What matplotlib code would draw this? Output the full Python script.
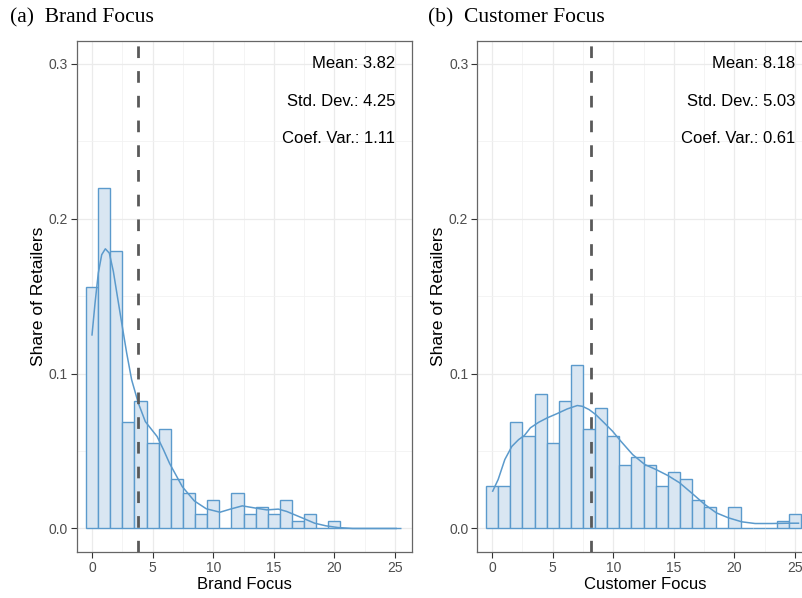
import numpy as np
import matplotlib
matplotlib.use('Agg')
import matplotlib.pyplot as plt

plt.rcParams['font.family'] = ['Liberation Sans', 'DejaVu Sans']

# histogram counts per integer bin (0..25), 218 retailers
n_retailers = 218
bins = np.arange(0, 26)
brand_counts = [34, 48, 39, 15, 18, 12, 14, 7, 5, 2, 4, 0, 5, 2, 3, 2, 4, 1, 2, 0, 1, 0, 0, 0, 0, 0]
customer_counts = [6, 6, 15, 13, 19, 12, 18, 23, 14, 17, 13, 9, 10, 9, 6, 8, 7, 4, 3, 0, 3, 0, 0, 0, 1, 2]

# density curves (x, share)
brand_kde_x = [0, 0.25, 0.52, 0.8, 1.1, 1.43, 1.76, 2.09, 2.45, 2.86, 3.27, 3.82, 4.4, 5.37, 5.9,
               6.4, 7.45, 8.44, 9.43, 10.56, 11.41, 12.4, 13.39, 14.41, 15.37, 16.06, 17.38,
               18.37, 19.3, 20.3, 21.5, 25.1]
brand_kde_y = [0.125, 0.1456, 0.165, 0.1768, 0.1806, 0.1778, 0.166, 0.15, 0.1327, 0.1133, 0.096,
               0.081, 0.069, 0.0594, 0.0508, 0.042, 0.027, 0.0178, 0.0127, 0.0105, 0.0125, 0.0146,
               0.0133, 0.012, 0.0125, 0.011, 0.0067, 0.0034, 0.0017, 0.0006, 0.0, 0.0]
customer_kde_x = [0.05, 0.5, 1.05, 1.63, 2.19, 2.66, 3.16, 3.85, 4.54, 5.37, 6.2, 7.03, 7.45, 8.0,
                  8.56, 9.25, 9.94, 10.63, 11.6, 12.6, 13.54, 14.5, 15.47, 16.45, 17.55, 18.5,
                  19.49, 20.6, 21.7, 23.07, 24.45, 25.28]
customer_kde_y = [0.0241, 0.0316, 0.0445, 0.053, 0.0574, 0.06, 0.065, 0.0686, 0.0714, 0.0742,
                  0.0772, 0.0794, 0.0789, 0.0768, 0.0735, 0.0682, 0.0628, 0.0563, 0.0477, 0.0413,
                  0.038, 0.0342, 0.0295, 0.023, 0.0155, 0.0101, 0.0069, 0.0043, 0.0032, 0.0032,
                  0.0034, 0.0034]

titles = ['(a)  Brand Focus', '(b)  Customer Focus']
xlabels = ['Brand Focus', 'Customer Focus']
means = [3.82, 8.18]
sds = [4.25, 5.03]
cvs = [1.11, 0.61]

fill_col = '#d9e6f2'
edge_col = '#5b9acc'

fig = plt.figure(figsize=(8.03, 5.98), dpi=100)
W, H = 803, 598
ax_left = [76.5, 477.3]
ax_w = 335
ax_top, ax_bot = 40.7, 551.7
xlims = [(-1.28, 26.36), (-1.22, 26.42)]

panels = [(brand_counts, brand_kde_x, brand_kde_y), (customer_counts, customer_kde_x, customer_kde_y)]

for i, (counts, kx, ky) in enumerate(panels):
    ax = fig.add_axes([ax_left[i] / W, (H - ax_bot) / H, ax_w / W, (ax_bot - ax_top) / H])
    share = np.array(counts) / n_retailers
    ax.bar(bins, share, width=1.0, color=fill_col, edgecolor=edge_col, linewidth=1.0, zorder=2)
    ax.plot(kx, ky, color=edge_col, lw=1.1, zorder=3)
    ax.axvline(means[i], color='#595959', lw=2.0, dashes=(4.2, 4.7), zorder=4)

    ax.set_xlim(*xlims[i])
    ax.set_ylim(-0.015, 0.315)
    ax.set_xticks([0, 5, 10, 15, 20, 25])
    ax.set_yticks([0.0, 0.1, 0.2, 0.3])
    ax.set_yticklabels(['0.0', '0.1', '0.2', '0.3'])
    ax.set_xticks(np.arange(2.5, 26, 5), minor=True)
    ax.set_yticks([0.05, 0.15, 0.25], minor=True)
    ax.grid(True, which='major', color='#ebebeb', lw=0.9, zorder=0)
    ax.grid(True, which='minor', color='#f2f2f2', lw=0.6, zorder=0)
    ax.set_axisbelow(True)
    ax.tick_params(which='major', length=4.5, width=0.8, color='#333333', pad=2,
                   labelsize=10, labelcolor='#4d4d4d')
    ax.tick_params(which='minor', length=0)
    for s in ax.spines.values():
        s.set_color('#666666')
        s.set_linewidth(0.9)

    ax.set_ylabel('Share of Retailers', fontsize=12.5)
    ax.set_xlabel(xlabels[i], fontsize=12)
    ax.yaxis.set_label_coords(-0.092, 0.5)
    ax.xaxis.set_label_coords(0.5, -0.05)

    ax.text(25, 0.3, f'Mean: {means[i]:.2f}', ha='right', va='center', fontsize=12)
    ax.text(25, 0.2755, f'Std. Dev.: {sds[i]:.2f}', ha='right', va='center', fontsize=12)
    ax.text(25, 0.2516, f'Coef. Var.: {cvs[i]:.2f}', ha='right', va='center', fontsize=12)

fig.text(10 / W, 1 - 18 / H, titles[0], family=['Liberation Serif', 'DejaVu Serif'],
         fontsize=15.5, va='center', ha='left')
fig.text(428 / W, 1 - 18 / H, titles[1], family=['Liberation Serif', 'DejaVu Serif'],
         fontsize=15.5, va='center', ha='left')

fig.savefig('out.png', dpi=100)
